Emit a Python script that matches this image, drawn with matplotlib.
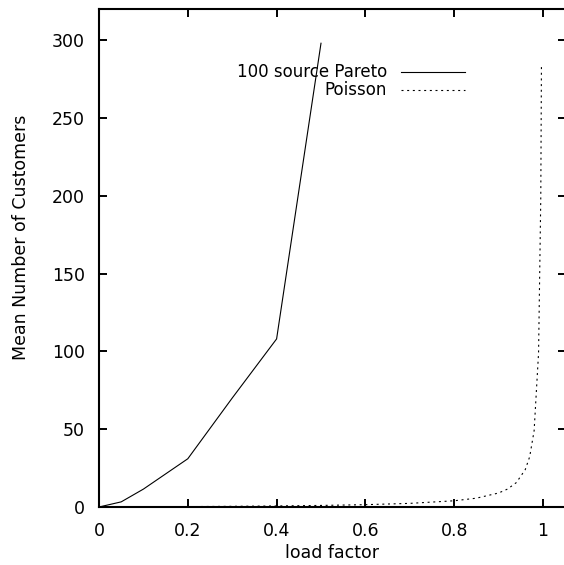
import matplotlib
matplotlib.use("Agg")
import matplotlib.pyplot as plt

plt.rcParams["font.family"] = ["DejaVu Sans"]

# Mean number of customers vs. load factor
pareto_load = [0.0, 0.05, 0.1, 0.2, 0.3, 0.4, 0.5]
pareto_mean = [0.0, 3.3, 11.5, 31.0, 70.0, 108.0, 298.0]

poisson_load = [0.0, 0.1, 0.2, 0.3, 0.4, 0.5, 0.6, 0.7, 0.8, 0.85, 0.9,
                0.92, 0.94, 0.96, 0.97, 0.98, 0.99, 0.995, 0.9965]
poisson_mean = [0.0, 0.11, 0.25, 0.43, 0.67, 1.0, 1.5, 2.33, 4.0, 5.67, 9.0,
                11.5, 15.7, 24.0, 32.3, 49.0, 99.0, 199.0, 284.0]

series_labels = ["100 source Pareto", "Poisson"]
x_ticks = [0, 0.2, 0.4, 0.6, 0.8, 1]
x_tick_labels = ["0", "0.2", "0.4", "0.6", "0.8", "1"]
y_ticks = [0, 50, 100, 150, 200, 250, 300]

FS = 12.5
KEY_FS = 12
DOTTED = (0, (1.8, 3.3))

W, H = 564, 565
fig = plt.figure(figsize=(W / 100, H / 100), dpi=100)
left, right, top, bottom = 99, 566, 9, 507
ax = fig.add_axes([left / W, (H - bottom) / H, (right - left) / W, (bottom - top) / H])

ax.plot(pareto_load, pareto_mean, color="black", lw=0.8, solid_joinstyle="miter")
ax.plot(poisson_load, poisson_mean, color="black", lw=0.8, linestyle=DOTTED)

ax.set_xlim(0, (right - left) / 444)
ax.set_ylim(0, 320)
ax.set_xticks(x_ticks)
ax.set_xticklabels(x_tick_labels)
ax.set_yticks(y_ticks)

for s in ax.spines.values():
    s.set_linewidth(1.5)
ax.tick_params(direction="in", length=6, width=1.4, top=True, right=True,
               labelsize=FS)
ax.tick_params(axis="x", pad=11)
ax.tick_params(axis="y", pad=10)

ax.set_xlabel("load factor", fontsize=FS)
ax.set_ylabel("Mean Number of Customers", fontsize=FS)
ax.xaxis.label.set_verticalalignment("center")
ax.xaxis.set_label_coords((332 - left) / (right - left), -(553 - bottom) / (bottom - top))
ax.yaxis.label.set_verticalalignment("center")
ax.yaxis.set_label_coords(-(left - 21) / (right - left), (bottom - 237) / (bottom - top))

# key, right-aligned text with sample lines
key_rows = [(77, 72, "-", series_labels[0]), (95, 90, DOTTED, series_labels[1])]
for ybase, yline, ls, lab in key_rows:
    fig.text(387 / W, (H - ybase) / H, lab, ha="right", va="baseline", fontsize=KEY_FS)
    yf = (H - yline) / H
    fig.add_artist(plt.Line2D([401 / W, 465 / W], [yf, yf], color="black",
                              lw=0.8, linestyle=ls, transform=fig.transFigure))

fig.savefig("out.png", dpi=100)
